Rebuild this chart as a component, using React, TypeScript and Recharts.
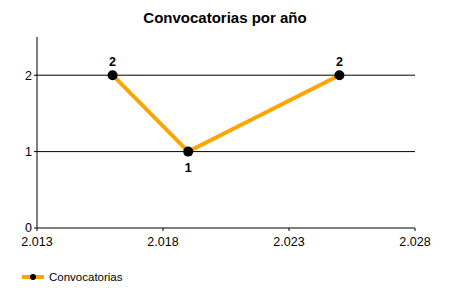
import React from 'react'
import { LineChart, Line, XAxis, YAxis, ReferenceLine, LabelList } from 'recharts'

const years = [2016, 2019, 2025]
const counts = [2, 1, 2]
const xTicks = [2013, 2018, 2023, 2028]
const yTicks = [0, 1, 2]
const gridValues = [1, 2]
const labelSide = ['top', 'bottom', 'top']

const data = years.map((year, i) => ({ year, count: counts[i] }))

const FONT = '"Liberation Sans", Arial, sans-serif'
const ORANGE = '#FFA500'

const withDots = (v: number) => String(v).replace(/\B(?=(\d{3})+(?!\d))/g, '.')

const PointLabel = (props: any) => {
  const { x, y, value, index } = props
  const below = labelSide[index] === 'bottom'
  return (
    <text
      x={x}
      y={below ? y + 17 : y - 12}
      textAnchor="middle"
      dominantBaseline="middle"
      fontFamily={FONT}
      fontSize={12.5}
      fontWeight="bold"
      fill="#000"
    >
      {value}
    </text>
  )
}

export default function App() {
  return (
    <div style={{ position: 'absolute', left: 0, top: 0, width: 450, height: 300, background: '#fff', fontFamily: FONT }}>
      <div style={{ position: 'absolute', left: 0, top: 9, width: 450, textAlign: 'center', fontSize: 15, fontWeight: 'bold', color: '#000' }}>
        Convocatorias por año
      </div>
      <LineChart width={450} height={300} data={data} margin={{ top: 37, right: 35, left: 0, bottom: 0 }}>
        {gridValues.map((v) => (
          <ReferenceLine key={v} y={v} stroke="#000" strokeWidth={1} />
        ))}
        <XAxis
          type="number"
          dataKey="year"
          domain={[2013, 2028]}
          ticks={xTicks}
          tickFormatter={withDots}
          height={72}
          stroke="#000"
          tickSize={3}
          tick={{ fill: '#000', fontSize: 12.5, fontFamily: FONT, dy: 4 }}
          interval={0}
        />
        <YAxis
          type="number"
          domain={[0, 2.5]}
          ticks={yTicks}
          width={37}
          stroke="#000"
          tickSize={3}
          tick={{ fill: '#000', fontSize: 12.5, fontFamily: FONT }}
          interval={0}
        />
        <Line
          type="linear"
          dataKey="count"
          stroke={ORANGE}
          strokeWidth={4}
          dot={{ r: 5, fill: '#000', stroke: '#000', strokeWidth: 0 }}
          isAnimationActive={false}
        >
          <LabelList dataKey="count" content={PointLabel} />
        </Line>
      </LineChart>
      <div style={{ position: 'absolute', left: 22, top: 271, display: 'flex', alignItems: 'center', fontSize: 11.5, color: '#000' }}>
        <svg width={22} height={10} style={{ marginRight: 5 }}>
          <line x1={0} y1={5} x2={22} y2={5} stroke={ORANGE} strokeWidth={4} />
          <circle cx={11} cy={5} r={3} fill="#000" />
        </svg>
        <span>Convocatorias</span>
      </div>
    </div>
  )
}
